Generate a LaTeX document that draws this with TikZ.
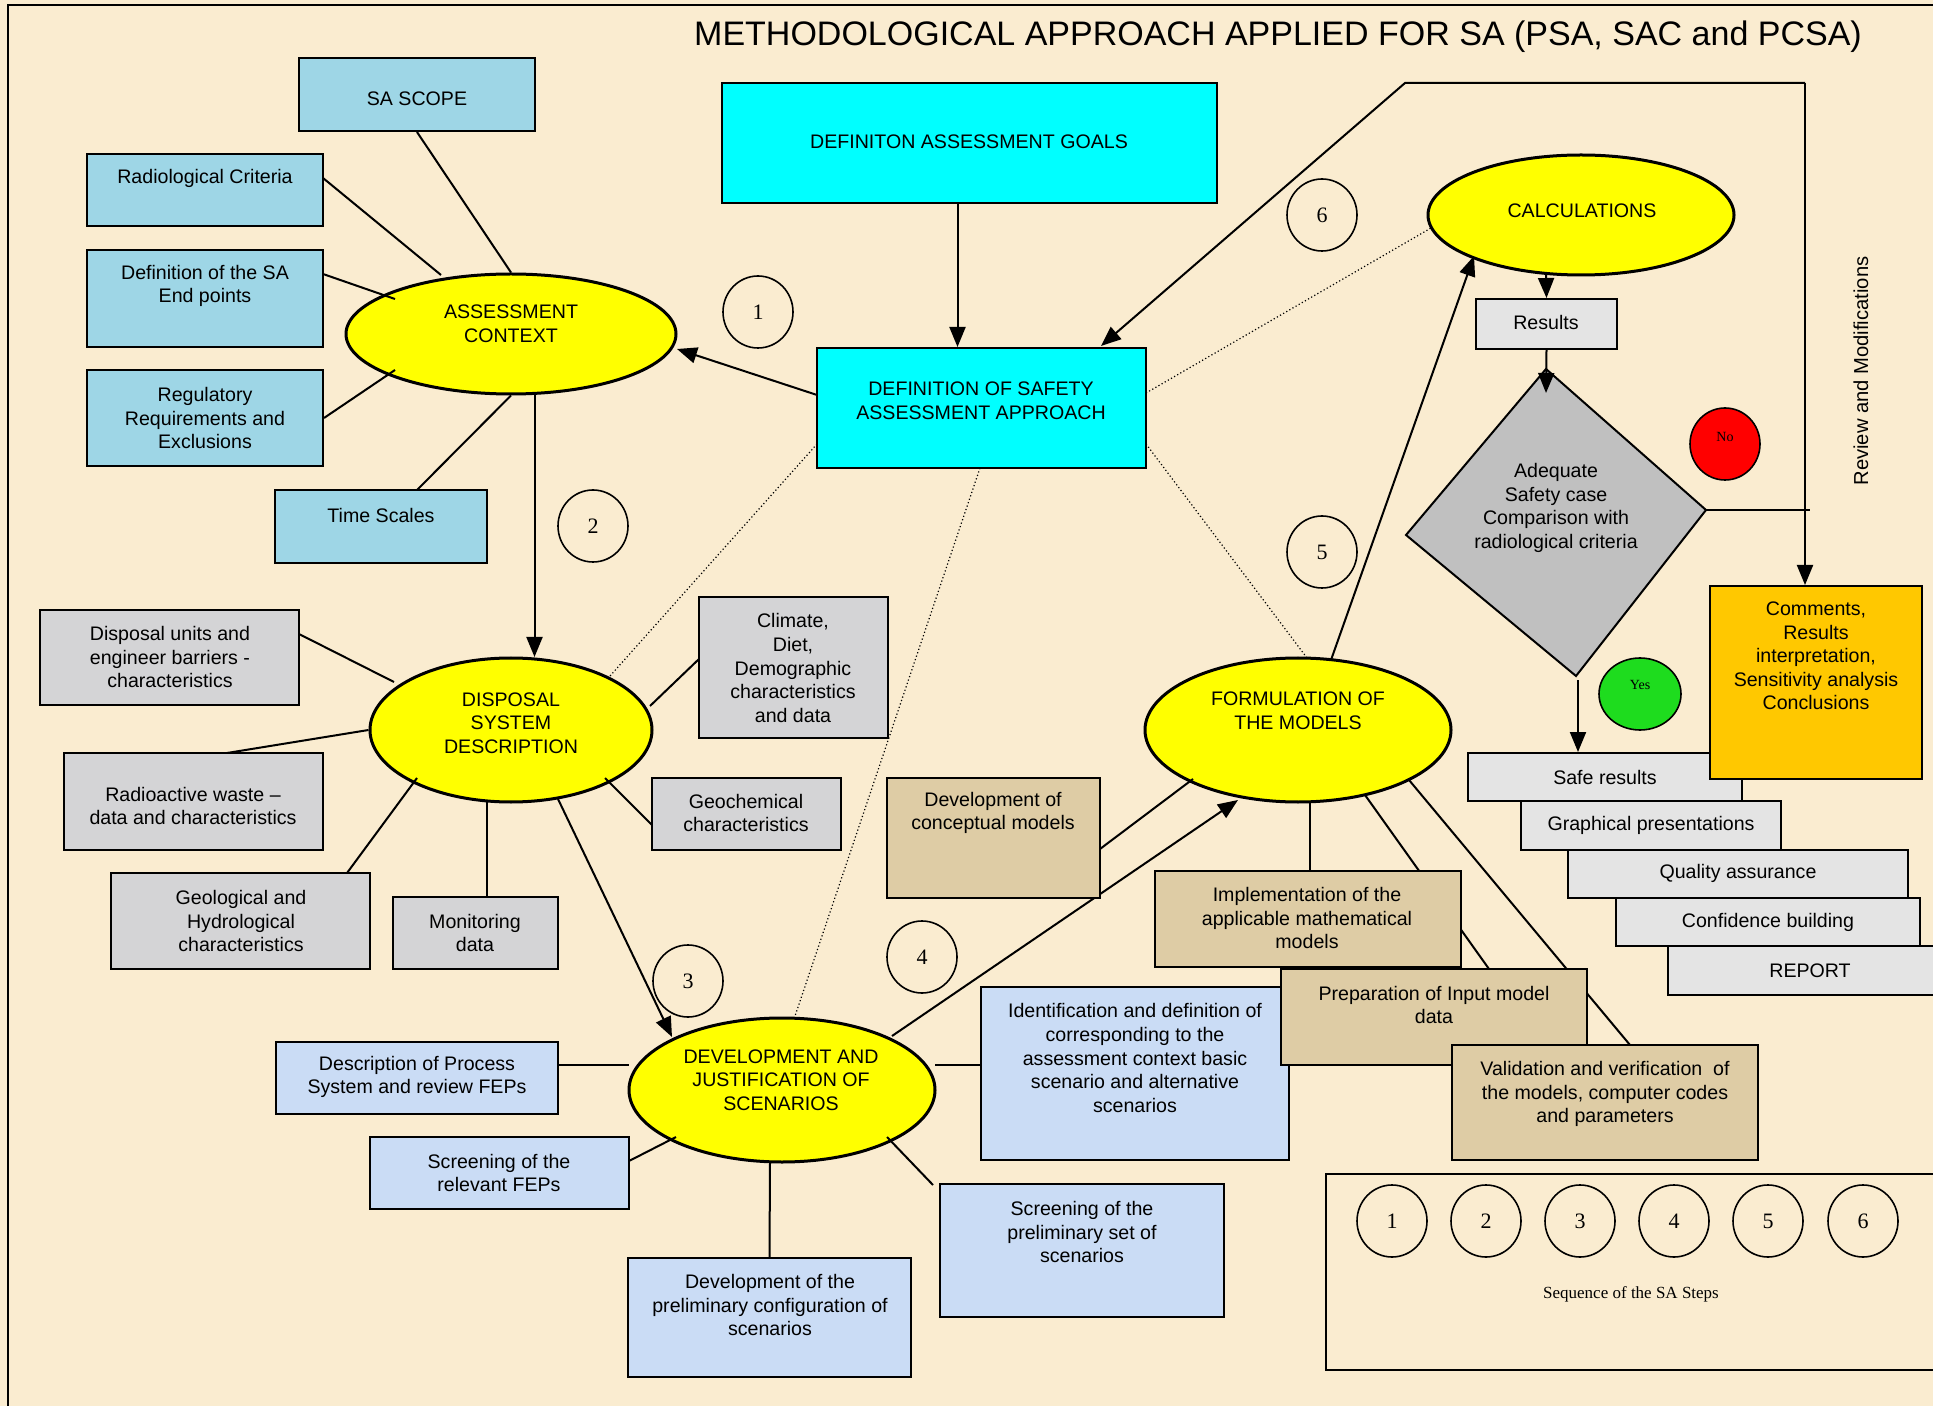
\documentclass[tikz,border=0pt]{standalone}
\usepackage{fontspec}
\setmainfont{Liberation Sans}
\newfontfamily\numfont{Liberation Serif}
\usetikzlibrary{shapes.geometric,arrows.meta,fit,calc}

\definecolor{paper}{RGB}{250,236,208}
\definecolor{aqua}{RGB}{158,214,230}
\definecolor{marble}{RGB}{212,212,214}
\definecolor{pale}{RGB}{202,220,245}
\definecolor{tan}{RGB}{222,204,165}
\definecolor{speck}{RGB}{228,228,228}
\definecolor{amber}{RGB}{255,200,0}
\definecolor{steel}{RGB}{192,192,192}
\definecolor{leaf}{RGB}{30,220,30}
\definecolor{brightcyan}{RGB}{0,255,255}
\definecolor{brightred}{RGB}{255,0,0}
\definecolor{brightyellow}{RGB}{255,255,0}

\pgfdeclarelayer{bubblelayer}
\pgfdeclarelayer{linklayer}
\pgfsetlayers{bubblelayer,linklayer,main}

\tikzset{
  txt/.style={font=\fontsize{9.8}{11.8}\selectfont, align=center, inner sep=0pt},
  panel/.style={draw=black, line width=1pt, inner sep=0pt},
  aquabox/.style={panel, fill=aqua},
  marblebox/.style={panel, fill=marble},
  palebox/.style={panel, fill=pale},
  tanbox/.style={panel, fill=tan},
  speckbox/.style={panel, fill=speck},
  goalbox/.style={panel, fill=brightcyan},
  bubble/.style={ellipse, draw=black, line width=1.5pt, fill=brightyellow, inner sep=0pt},
  stepno/.style={ellipse, draw=black, line width=0.8pt, fill=paper, inner sep=0pt,
    minimum width=35pt, minimum height=36pt, font=\numfont\fontsize{11}{13}\selectfont},
  link/.style={line width=1pt},
  flow/.style={line width=1pt, -{Triangle[length=10pt,width=8pt]}},
  hint/.style={line width=0.6pt, dash pattern=on 0.6pt off 1.2pt},
}

\begin{document}
\begin{tikzpicture}[x=0.5pt,y=-0.5pt]
\useasboundingbox (0,0) rectangle (1933,1406);

\begin{pgfonlayer}{bubblelayer}
  \fill[paper] (0,0) rectangle (1933,1406);
  \draw[line width=1pt] (8,1406) -- (8,5) -- (1933,5);
  % main process bubbles
  \node[bubble, minimum width=165pt, minimum height=60pt] (ac) at (511,334) {};
  \node[bubble, minimum width=141pt, minimum height=72pt] (dsd) at (511,730) {};
  \node[bubble, minimum width=153pt, minimum height=72pt] (djs) at (782,1090) {};
  \node[bubble, minimum width=153pt, minimum height=72pt] (fm) at (1298,730) {};
  \node[bubble, minimum width=153pt, minimum height=60pt] (calcs) at (1581,215) {};
  % decision
  \coordinate (dT) at (1546,369);
  \coordinate (dR) at (1706,510);
  \coordinate (dB) at (1576,676);
  \coordinate (dL) at (1406,535);
  \draw[line width=1pt, fill=steel] (dT) -- (dR) -- (dB) -- (dL) -- cycle;
\end{pgfonlayer}

% ---------- boxes ----------
\node[goalbox, fit={(722,83) (1217,203)}] (goals) {};
\node[goalbox, fit={(817,348) (1146,468)}] (approach) {};

\node[aquabox, fit={(299,58) (535,131)}] (scope) {};
\node[aquabox, fit={(87,154) (323,226)}] (rad) {};
\node[aquabox, fit={(87,250) (323,347)}] (defn) {};
\node[aquabox, fit={(87,370) (323,466)}] (reg) {};
\node[aquabox, fit={(275,490) (487,563)}] (time) {};

\node[marblebox, fit={(40,610) (299,705)}] (units) {};
\node[marblebox, fit={(64,753) (323,850)}] (waste) {};
\node[marblebox, fit={(111,873) (370,969)}] (geol) {};
\node[marblebox, fit={(393,897) (558,969)}] (monit) {};
\node[marblebox, fit={(699,597) (888,738)}] (climate) {};
\node[marblebox, fit={(652,778) (841,850)}] (geochem) {};

\node[palebox, fit={(276,1042) (558,1114)}] (fepdesc) {};
\node[palebox, fit={(370,1137) (629,1209)}] (fepscr) {};
\node[palebox, fit={(628,1258) (911,1377)}] (prelconf) {};
\node[palebox, fit={(940,1184) (1224,1317)}] (prelscr) {};
\node[palebox, fit={(981,987) (1289,1160)}] (ident) {};

\node[tanbox, fit={(887,778) (1100,898)}] (concept) {};
\node[tanbox, fit={(1155,871) (1461,967)}] (impl) {};
\node[tanbox, fit={(1281,969) (1587,1065)}] (prep) {};
\node[tanbox, fit={(1452,1045) (1758,1160)}] (valid) {};

\node[speckbox, fit={(1476,299) (1617,349)}] (results) {};
\node[speckbox, fit={(1468,753) (1742,801)}] (safe) {};
\node[speckbox, fit={(1521,801) (1781,850)}] (graph) {};
\node[speckbox, fit={(1568,850) (1908,898)}] (qa) {};
\node[speckbox, fit={(1616,898) (1920,946)}] (conf) {};
\node[speckbox, fit={(1668,946) (1950,995)}] (report) {};
\node[panel, fill=amber, fit={(1710,586) (1922,779)}] (comments) {};

\node[panel, fill=paper, fit={(1326,1174) (1950,1370)}] (seq) {};

% ---------- connectors ----------
\begin{pgfonlayer}{linklayer}
  % assessment context
  \draw[link] (scope.south) -- (ac.north);
  \draw[link] ($(rad)+(118,-12)$) -- ($(ac)+(-70,-59)$);
  \draw[link] ($(defn)+(118,-24.5)$) -- ($(ac)+(-116,-35)$);
  \draw[link] (reg.east) -- ($(ac)+(-116,36)$);
  \draw[link] ($(time)+(36,-36.5)$) -- (ac.south);
  \draw[flow] ($(ac)+(23.5,60)$) -- ($(dsd)+(23.5,-73)$);
  \draw[flow] ($(approach)+(-164.5,-13)$) -- ($(ac)+(166,15)$);
  \draw[flow] ($(goals.south)+(-12,0)$) -- ($(approach.north)+(-24,0)$);
  % disposal system
  \draw[link] ($(units)+(129.5,-23.5)$) -- ($(dsd)+(-117,-48)$);
  \draw[link] ($(waste)+(33.5,-48.5)$) -- (dsd.west);
  \draw[link] ($(geol)+(106.5,-48)$) -- ($(dsd)+(-94,48)$);
  \draw[link] ($(monit)+(11.5,-36)$) -- ($(dsd)+(-24,71)$);
  \draw[link] ($(climate)+(-94.5,-8.5)$) -- ($(dsd)+(139,-24)$);
  \draw[link] ($(geochem)+(-94.5,11)$) -- ($(dsd)+(94,48)$);
  \draw[flow] ($(dsd)+(47,69)$) -- ($(djs)+(-110,-53)$);
  % scenarios
  \draw[link] ($(fepdesc)+(141,-13)$) -- ($(djs)+(-153,-25)$);
  \draw[link] ($(fepscr)+(129.5,-12)$) -- ($(djs)+(-106,47)$);
  \draw[link] ($(djs)+(-12,72)$) -- (prelconf.north);
  \draw[link] ($(prelscr.north west)+(-6,2)$) -- ($(djs)+(105,47)$);
  \draw[link] ($(djs)+(153,-25)$) -- ($(ident)+(-154,-8.5)$);
  \draw[flow] ($(djs)+(110,-54)$) -- ($(fm)+(-60,70)$);
  % models
  \draw[link] ($(concept)+(106.5,11)$) -- ($(fm)+(-105,49)$);
  \draw[link] ($(fm)+(12,72)$) -- ($(impl.north)+(2,0)$);
  \draw[link] ($(fm)+(67,65)$) -- ($(prep)+(55,-48)$);
  \draw[link] ($(fm)+(111,50)$) -- ($(valid)+(25,-57.5)$);
  \draw[flow] ($(fm)+(33,-70)$) -- ($(calcs)+(-107,41)$);
  % calculations and decision
  \draw[flow] ($(calcs)+(-35,58)$) -- (results.north);
  \draw[flow] (results.south) -- ($(dT)+(0,24)$);
  \draw[flow] ($(dB)+(2,4)$) -- ($(safe.north)+(-27,0)$);
  \coordinate (noend) at (1810,510);
  \draw[line width=1.3pt] (dR) -- (noend);
  % review loop
  \coordinate (loopR) at (1805,83);
  \coordinate (loopL) at (1405,83);
  \draw[flow] (loopR) -- ($(comments.north)+(-11,0)$);
  \draw[flow] (loopR) -- (loopL) -- ($(approach)+(119.5,-62)$);
  % approach relations
  \draw[hint] ($(approach)+(164.5,-15)$) -- ($(calcs)+(-150,13)$);
  \draw[hint] ($(approach)+(-164.5,36)$) -- ($(dsd)+(99,-54)$);
  \draw[hint] ($(approach)+(-1.5,60)$) -- ($(djs)+(12,-71)$);
  \draw[hint] ($(approach)+(164.5,36)$) -- ($(fm)+(9,-72)$);
\end{pgfonlayer}

% ---------- step numbers ----------
\node[stepno] (n1) at (758,312) {1};
\node[stepno] (n2) at (593,526) {2};
\node[stepno] (n3) at (688,981) {3};
\node[stepno] (n4) at (922,957) {4};
\node[stepno] (n5) at (1322,552) {5};
\node[stepno] (n6) at (1322,215) {6};
\foreach \k/\xx in {1/1392,2/1486,3/1580,4/1674,5/1768,6/1863}
  \node[stepno] (s\k) at (\xx,1221) {\k};

\node[ellipse, draw=black, line width=0.8pt, fill=brightred, minimum width=35pt, minimum height=36pt, inner sep=0pt] (no) at (1725,444) {};
\node[ellipse, draw=black, line width=0.8pt, fill=leaf, minimum width=41pt, minimum height=36pt, inner sep=0pt] (yes) at (1640,694) {};
\node[font=\numfont\fontsize{7}{8}\selectfont, inner sep=0pt] (no-t) at (1725,437) {No};
\node[font=\numfont\fontsize{7}{8}\selectfont, inner sep=0pt] (yes-t) at (1640,685) {Yes};

% ---------- texts ----------
\node[font=\fontsize{17}{20}\selectfont, inner sep=0pt] (title) at (1278,37)
  {METHODOLOGICAL APPROACH APPLIED FOR SA (PSA, SAC and PCSA)};
\node[rotate=90, font=\fontsize{10.1}{12}\selectfont, inner sep=0pt] (review) at (1861,371) {Review and Modifications};
\node[font=\numfont\fontsize{8.5}{10}\selectfont, inner sep=0pt] (seq-t) at (1631,1294) {Sequence of the SA Steps};

\node[txt] (ac-t) at (511,324) {ASSESSMENT\\CONTEXT};
\node[txt] (dsd-t) at (511,723) {DISPOSAL\\SYSTEM\\DESCRIPTION};
\node[txt] (djs-t) at (781,1080) {DEVELOPMENT AND\\JUSTIFICATION OF\\SCENARIOS};
\node[txt] (fm-t) at (1298,711) {FORMULATION OF\\THE MODELS};
\node[txt] (calcs-t) at (1582,211) {CALCULATIONS};
\node[txt] (dia-t) at (1556,508) {Adequate\\Safety case\\Comparison with\\radiological criteria};

\node[txt] (goals-t) at (969,142) {DEFINITON ASSESSMENT GOALS};
\node[txt] (approach-t) at (981,401) {DEFINITION OF SAFETY\\ASSESSMENT APPROACH};
\node[txt] (scope-t) at (417,99) {SA SCOPE};
\node[txt] (rad-t) at (205,178) {Radiological Criteria};
\node[txt] (defn-t) at (205,286) {Definition of the SA\\End points};
\node[txt] (reg-t) at (205,418) {Regulatory\\Requirements and\\Exclusions};
\node[txt] (time-t) at (381,515) {Time Scales};

\node[txt] (units-t) at (170,657) {Disposal units and\\engineer barriers -\\characteristics};
\node[txt] (waste-t) at (193,806) {Radioactive waste –\\data and characteristics};
\node[txt] (geol-t) at (241,921) {Geological and\\Hydrological\\characteristics};
\node[txt] (monit-t) at (475,933) {Monitoring\\data};
\node[txt] (climate-t) at (793,668) {Climate,\\Diet,\\Demographic\\characteristics\\and data};
\node[txt] (geochem-t) at (746,813) {Geochemical\\characteristics};

\node[txt] (fepdesc-t) at (417,1077) {Description of Process\\System and review FEPs};
\node[txt] (fepscr-t) at (499,1173) {Screening of the\\relevant FEPs};
\node[txt] (prelconf-t) at (770,1305) {Development of the\\preliminary configuration of\\scenarios};
\node[txt] (prelscr-t) at (1082,1232) {Screening of the\\preliminary set of\\scenarios};
\node[txt] (ident-t) at (1135,1058) {Identification and definition of\\corresponding to the\\assessment context basic\\scenario and alternative\\scenarios};

\node[txt] (concept-t) at (993,813) {Development of\\conceptual models};
\node[txt] (impl-t) at (1307,918) {Implementation of the\\applicable mathematical\\models};
\node[txt] (prep-t) at (1434,1005) {Preparation of Input model\\data};
\node[txt] (valid-t) at (1605,1094) {Validation and verification\ \ of\\the models, computer codes\\and parameters};

\node[txt] (results-t) at (1546,322) {Results};
\node[txt] (safe-t) at (1605,777) {Safe results};
\node[txt] (graph-t) at (1651,825) {Graphical presentations};
\node[txt] (qa-t) at (1738,873) {Quality assurance};
\node[txt] (conf-t) at (1768,922) {Confidence building};
\node[txt] (report-t) at (1810,971) {REPORT};
\node[txt] (comments-t) at (1816,656) {Comments,\\Results\\interpretation,\\Sensitivity analysis\\Conclusions};
\end{tikzpicture}
\end{document}
